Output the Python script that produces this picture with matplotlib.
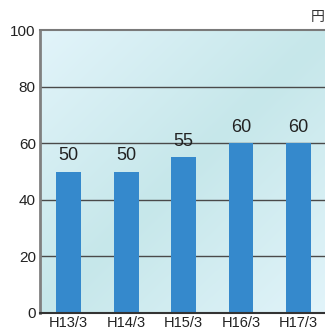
import numpy as np
import matplotlib.pyplot as plt
from matplotlib.colors import LinearSegmentedColormap

plt.rcParams['font.family'] = ['Liberation Sans', 'Noto Sans CJK JP', 'DejaVu Sans']

# dividend per share (yen)
periods = ["H13/3", "H14/3", "H15/3", "H16/3", "H17/3"]
dividends = [50, 50, 55, 60, 60]
yticks = [0, 20, 40, 60, 80, 100]
unit = "円"

fig = plt.figure(figsize=(3.25, 3.3), dpi=100)
ax = fig.add_axes([40 / 325, 17 / 330, 290 / 325, 283 / 330])

x = np.arange(len(periods))
xmin, xmax = -0.5, 4.55

# diagonal background wash: light at top-left / bottom-right, deeper teal in between
bg = LinearSegmentedColormap.from_list("wash", ["#e2f4fa", "#c6e7ea"])
gx, gy = np.meshgrid(np.linspace(0, 1, 200), np.linspace(0, 1, 200))
u = gx + (1 - gy)
t = 1 - np.abs(u - 1)
ax.imshow(t, cmap=bg, extent=(xmin, xmax, 0, 100), origin="lower",
          aspect="auto", zorder=0, interpolation="bilinear")
ax.set_xlim(xmin, xmax)
ax.set_ylim(0, 100)

for y in yticks[1:-1]:
    ax.axhline(y, color="#4a4a4a", lw=1.0, zorder=1)

ax.bar(x, dividends, width=0.435, color="#3589cc", zorder=2)
for xi, v in zip(x, dividends):
    ax.text(xi, v + 2.6, str(v), ha="center", va="bottom", fontsize=13,
            color="#222222")

ax.set_xticks(x)
ax.set_xticklabels(periods, fontsize=10.5, color="#222222")
ax.set_yticks(yticks)
ax.set_yticklabels([str(v) for v in yticks], fontsize=11, color="#222222")
ax.tick_params(length=0, pad=3)
ax.tick_params(axis="x", pad=2.5)

ax.spines["left"].set_color("#808080")
ax.spines["left"].set_linewidth(2.0)
ax.spines["top"].set_color("#7a7a7a")
ax.spines["top"].set_linewidth(1.5)
ax.spines["bottom"].set_color("#333333")
ax.spines["bottom"].set_linewidth(1.5)
ax.spines["right"].set_visible(False)

fig.text(318 / 325, 1 - 17 / 330, unit, ha="center", va="center", fontsize=10,
         color="#333333", family=["Noto Sans CJK JP", "DejaVu Sans"])

fig.savefig("out.png", dpi=100)
